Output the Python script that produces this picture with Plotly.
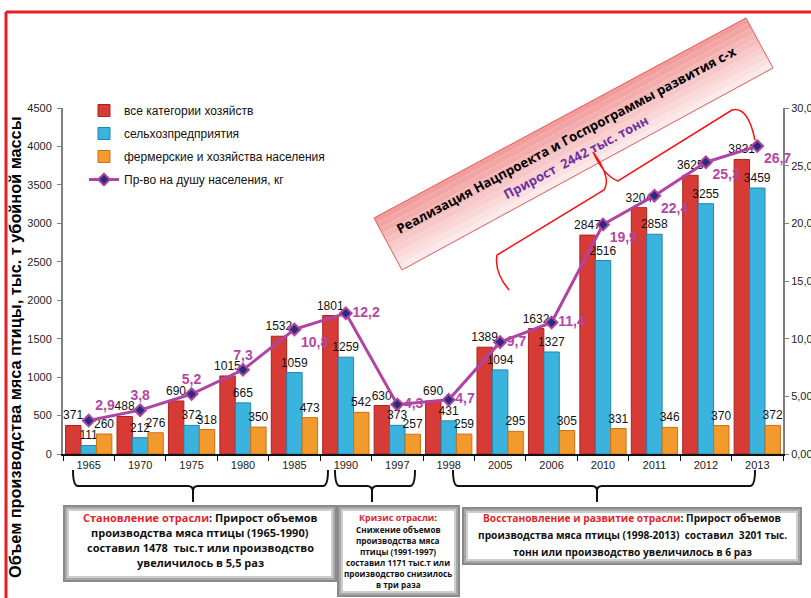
import plotly.graph_objects as go

# ---------------- data ----------------
years = ["1965", "1970", "1975", "1980", "1985", "1990", "1997",
         "1998", "2005", "2006", "2010", "2011", "2012", "2013"]
all_farms = [371, 488, 690, 1015, 1532, 1801, 630, 690, 1389, 1632, 2847, 3204, 3625, 3831]
agri_orgs = [111, 212, 372, 665, 1059, 1259, 373, 431, 1094, 1327, 2516, 2858, 3255, 3459]
households = [260, 276, 318, 350, 473, 542, 257, 259, 295, 305, 331, 346, 370, 372]
per_capita = [2.9, 3.8, 5.2, 7.3, 10.8, 12.2, 4.3, 4.7, 9.7, 11.4, 19.9, 22.4, 25.3, 26.7]
left_ticks = [0, 500, 1000, 1500, 2000, 2500, 3000, 3500, 4000, 4500]
right_ticks = [0, 5, 10, 15, 20, 25, 30]
right_tick_text = ["0,00", "5,00", "10,00", "15,00", "20,00", "25,00", "30,00"]
series_names = ["все категории хозяйств", "сельхозпредприятия",
                "фермерские и хозяйства населения", "Пр-во на душу населения, кг"]

# ---------------- geometry helpers (pixel -> paper) ----------------
W, H = 811, 598
L, R, T, B = 63, 783, 108, 454


def px(x):
    return (x - L) / (R - L)


def py(y):
    return (B - y) / (B - T)


def P(x, y):
    return f"{px(x):.5f},{py(y):.5f}"


FONT = "Liberation Sans, Arial, sans-serif"
CAL = "Open Sans, Roboto, sans-serif"

fig = go.Figure()

bar_colors = ["#D63B35", "#3AB4DE", "#F39A2C"]
bar_lines = ["#A8231F", "#1F86B0", "#C9701A"]
for i, vals in enumerate([all_farms, agri_orgs, households]):
    fig.add_trace(go.Bar(
        x=years, y=vals, name=series_names[i], legendgroup=f"g{i}",
        marker=dict(color=bar_colors[i], line=dict(color=bar_lines[i], width=1)),
        text=[str(v) for v in vals], textposition="outside", constraintext="none",
        cliponaxis=False, textfont=dict(family=FONT, size=12, color="#111111"),
    ))

pc_labels = ["<b>" + f"{v:.1f}".replace(".", ",") + "</b>" for v in per_capita]
pc_pos = ["top right", "top center", "top center", "top center", "bottom right",
          "middle right", "middle right", "middle right", "middle right", "middle right",
          "bottom right", "bottom right", "bottom right", "bottom right"]
fig.add_trace(go.Scatter(
    x=years, y=per_capita, yaxis="y2", name=series_names[3], legendgroup="g3",
    mode="lines+markers+text",
    line=dict(color="#B044A4", width=3),
    marker=dict(symbol="diamond", size=9, color="#2B2D7C", line=dict(color="#B044A4", width=2)),
    text=pc_labels, textposition=pc_pos, cliponaxis=False,
    textfont=dict(family=FONT, size=14, color="#B446A6"),
))

shapes = []
annotations = []

# red frame lines
shapes.append(dict(type="line", xref="paper", yref="paper", x0=px(6), x1=px(811), y0=py(12), y1=py(12),
                   line=dict(color="#E31E24", width=3), layer="above"))
shapes.append(dict(type="line", xref="paper", yref="paper", x0=px(6), x1=px(6), y0=py(12), y1=py(598),
                   line=dict(color="#E31E24", width=3), layer="above"))

# rotated banner (gradient approximated by strips)
A = (374, 218); Bc = (402, 270); C = (773, 68); D = (746, 18)
N = 10
c0 = (0xF2, 0x98, 0x98); c1 = (0xFD, 0xEE, 0xEE)


def lerp(p, q, t):
    return (p[0] + (q[0] - p[0]) * t, p[1] + (q[1] - p[1]) * t)


for i in range(N):
    t0, t1 = i / N, (i + 1) / N
    p1 = lerp(A, Bc, t0); p2 = lerp(A, Bc, t1); p3 = lerp(D, C, t1); p4 = lerp(D, C, t0)
    tm = (t0 + t1) / 2
    col = "rgb({},{},{})".format(*[int(c0[k] + (c1[k] - c0[k]) * tm) for k in range(3)])
    shapes.append(dict(type="path", xref="paper", yref="paper",
                       path=f"M {P(*p1)} L {P(*p2)} L {P(*p3)} L {P(*p4)} Z",
                       fillcolor=col, line=dict(width=0), layer="above"))
shapes.append(dict(type="path", xref="paper", yref="paper",
                   path=f"M {P(*A)} L {P(*Bc)} L {P(*C)} L {P(*D)} Z",
                   line=dict(color="#E05A5A", width=1), layer="above"))

annotations.append(dict(xref="paper", yref="paper", x=px(566), y=py(140), showarrow=False,
                        text="<b>Реализация Нацпроекта и Госпрограммы развития с-х</b>",
                        textangle=-28, xanchor="center", yanchor="middle",
                        font=dict(family=CAL, size=13.2, color="#000000")))
annotations.append(dict(xref="paper", yref="paper", x=px(576), y=py(157), showarrow=False,
                        text="<b>Прирост  2442 тыс. тонн</b>",
                        textangle=-28, xanchor="center", yanchor="middle",
                        font=dict(family=CAL, size=13, color="#7030A0")))

# red curly brace near banner
red_brace = (f"M {P(509,290)} Q {P(494,272)} {P(497,255)} L {P(604,190)} "
             f"Q {P(612,178)} {P(593,152)} Q {P(604,176)} {P(618,181)} "
             f"L {P(732,110)} Q {P(748,106)} {P(755,140)}")
shapes.append(dict(type="path", xref="paper", yref="paper", path=red_brace,
                   line=dict(color="#FF1010", width=1.5), layer="above"))


# black braces under the axis
def brace(x0, x1, xt, ytop=470, ymid=486, ybot=502):
    r = 5
    return (f"M {P(x0,ytop)} Q {P(x0,ymid)} {P(x0+r,ymid)} L {P(xt-r,ymid)} "
            f"Q {P(xt,ymid)} {P(xt,ymid+r)} L {P(xt,ybot)} M {P(xt,ymid+r)} "
            f"Q {P(xt,ymid)} {P(xt+r,ymid)} L {P(x1-r,ymid)} Q {P(x1,ymid)} {P(x1,ytop)}")


for (x0, x1, xt) in [(73, 328, 193), (335, 415, 372), (453, 755, 597)]:
    shapes.append(dict(type="path", xref="paper", yref="paper", path=brace(x0, x1, xt),
                       line=dict(color="#111111", width=2), layer="above"))


# text boxes with shadow frame
def box(x0, y0, x1, y1):
    frames = [(0, "#8A8A8A"), (2, "#A8A8A8"), (4, "#CECECE"), (6, "#FFFFFF")]
    for inset, col in frames:
        shapes.append(dict(type="rect", xref="paper", yref="paper",
                           x0=px(x0 + inset), x1=px(x1 - inset), y0=py(y0 + inset), y1=py(y1 - inset),
                           fillcolor=col, line=dict(width=0), layer="above"))


box(63, 505, 337, 582)
box(337, 505, 460, 597)
box(462, 507, 802, 565)

RED = "#E0262A"


def line_text(x, y, text, size):
    annotations.append(dict(xref="paper", yref="paper", x=px(x), y=py(y), showarrow=False,
                            text=text, xanchor="center", yanchor="middle",
                            font=dict(family=CAL, size=size, color="#111111")))


box1 = [f"<b><span style='color:{RED}'>Становление отрасли</span>: Прирост объемов</b>",
        "<b>производства мяса птицы (1965-1990)</b>",
        "<b>составил 1478  тыс.т или производство</b>",
        "<b>увеличилось в 5,5 раз</b>"]
for t, y in zip(box1, [517, 532, 547, 562]):
    line_text(200, y, t, 11)

line_text(398, 517, f"<b><span style='color:{RED}'>Кризис отрасли</span>:</b>", 9)
box2b = ["<b>Снижение объемов</b>", "<b>производства мяса</b>", "<b>птицы (1991-1997)</b>",
         "<b>составил 1171 тыс.т или</b>", "<b>производство снизилось</b>", "<b>в три раза</b>"]
for t, y in zip(box2b, [529, 540, 551, 562, 573, 584]):
    line_text(398, y, t, 8.2)

box3 = [f"<b><span style='color:{RED}'>Восстановление и развитие отрасли</span>: Прирост объемов</b>",
        "<b>производства мяса птицы (1998-2013)  составил  3201 тыс.</b>",
        "<b>тонн или производство увеличилось в 6 раз</b>"]
for t, y in zip(box3, [518, 535, 552]):
    line_text(632, y, t, 10.2)

# y-axis title
annotations.append(dict(xref="paper", yref="paper", x=px(15), y=py(347), showarrow=False,
                        text="<b>Объем производства мяса птицы, тыс. т убойной массы</b>",
                        textangle=-90, xanchor="center", yanchor="middle",
                        font=dict(family=FONT, size=16.3, color="#000000")))

fig.update_layout(
    width=W, height=H,
    margin=dict(l=L, r=W - R, t=T, b=H - B, autoexpand=False),
    paper_bgcolor="white", plot_bgcolor="white",
    barmode="group", bargap=0.1, bargroupgap=0.0,
    font=dict(family=FONT, size=11, color="#222222"),
    showlegend=True,
    legend=dict(x=px(84), y=py(96), xanchor="left", yanchor="top",
                bgcolor="rgba(0,0,0,0)", font=dict(family=FONT, size=12, color="#111111"),
                tracegroupgap=4, traceorder="grouped"),
    xaxis=dict(type="category", range=[-0.5, len(years) - 0.5], showgrid=False,
               showline=True, linecolor="#111111", linewidth=2, ticks="outside",
               tickson="boundaries", ticklen=5, tickcolor="#111111",
               tickfont=dict(family=FONT, size=11, color="#222222"), automargin=False),
    yaxis=dict(range=[0, 4500], tickvals=left_ticks, showgrid=False, zeroline=False,
               showline=True, linecolor="#808080", linewidth=2, ticks="outside", ticklen=4,
               tickcolor="#808080", tickfont=dict(family=FONT, size=11, color="#222222"),
               ticklabelstandoff=3, automargin=False),
    yaxis2=dict(overlaying="y", side="right", range=[0, 30], tickvals=right_ticks,
                ticktext=right_tick_text, showgrid=False, zeroline=False, showline=True,
                linecolor="#808080", linewidth=2, ticks="outside", ticklen=4, tickcolor="#808080",
                tickfont=dict(family=FONT, size=11, color="#222222"), automargin=False),
    shapes=shapes, annotations=annotations,
)

fig.write_html("out.html", config={"displayModeBar": False},
               post_script="document.body.style.margin='0px';document.body.style.overflow='hidden';")
